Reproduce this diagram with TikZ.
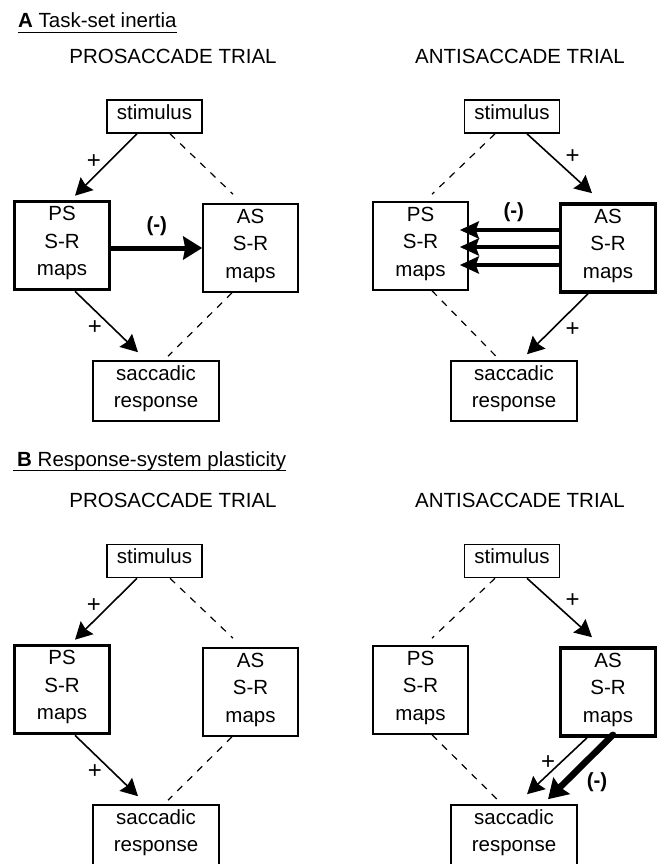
\documentclass[tikz,border=0pt]{standalone}
\usepackage{fontspec}
\setmainfont{Liberation Sans}
\usetikzlibrary{arrows.meta,calc}

\begin{document}
\begin{tikzpicture}[x=1pt, y=-1pt,
    every node/.style={font=\fontsize{20.5}{27.5}\selectfont},
    blk/.style={draw, line width=1.6pt, align=center, inner sep=0pt,
      execute at end node={\rule[-9pt]{0pt}{0pt}}},
    stimbox/.style={blk, minimum width=95pt, minimum height=33pt},
    mapbox/.style={blk, minimum width=95pt, minimum height=88pt},
    respbox/.style={blk, minimum width=126pt, minimum height=60pt},
    active/.style={line width=3.6pt},
    excite/.style={line width=1.6pt, -{Stealth[length=17pt, width=18pt, inset=2pt]}},
    inhibit/.style={line width=5pt, line cap=round, -{Stealth[length=19pt, width=23pt, inset=2pt]}},
    suppress/.style={line width=4.2pt, -{Stealth[length=19pt, width=17pt, inset=3pt]}},
    nolink/.style={line width=1.2pt, dash pattern=on 7pt off 7pt},
    sign/.style={inner sep=0pt, font=\fontsize{24}{28}\selectfont},
    neg/.style={inner sep=0pt, font=\fontsize{20.5}{27.5}\selectfont\bfseries},
    heading/.style={anchor=base west, inner sep=0pt},
  ]
  \useasboundingbox (0,0) rectangle (661,864);

  % A: task-set inertia
  \node[heading] (titleA) at (18,28) {\textbf{A} Task-set inertia};
  \draw[line width=1.2pt] ([yshift=-4.5pt]titleA.base west) -- ([yshift=-4.5pt]titleA.base east);
  \node (proA) at (173,56) {PROSACCADE TRIAL};
  \node (antiA) at (520,56) {ANTISACCADE TRIAL};

  \node[stimbox] (stim1) at (154.5,116.5) {stimulus};
  \node[mapbox, active] (ps1) at (62,245.5) {PS\\S-R\\maps};
  \node[mapbox] (as1) at (250.5,248) {AS\\S-R\\maps};
  \node[respbox] (resp1) at (156,391) {saccadic\\response};
  \draw[excite] ([xshift=-17.5pt]stim1.south) -- node[sign, xshift=-12pt, yshift=3pt] {+} ([xshift=13pt, yshift=4pt]ps1.north);
  \draw[nolink] ([xshift=15.5pt]stim1.south) -- ([xshift=-17.5pt, yshift=9pt]as1.north);
  \draw[inhibit] (ps1.east |- as1.west) -- node[neg, above=10pt] {(-)} (as1.west);
  \draw[excite] ([xshift=13pt]ps1.south) -- node[sign, pos=0.6, xshift=-18pt] {+} ([xshift=-18pt, yshift=8pt]resp1.north);
  \draw[nolink] ([xshift=-18.5pt]as1.south) -- ([xshift=12pt, yshift=4pt]resp1.north);

  \node[stimbox] (stim2) at (512,116.5) {stimulus};
  \node[mapbox] (ps2) at (420.5,246) {PS\\S-R\\maps};
  \node[mapbox, active] (as2) at (608,248) {AS\\S-R\\maps};
  \node[respbox] (resp2) at (514,391) {saccadic\\response};
  \draw[nolink] ([xshift=-17pt]stim2.south) -- ([xshift=11.5pt, yshift=7pt]ps2.north);
  \draw[excite] ([xshift=15pt]stim2.south) -- node[sign, xshift=13pt, yshift=7pt] {+} ([xshift=-16pt, yshift=9pt]as2.north);
  \draw[excite] ([xshift=-20pt]as2.south) -- node[sign, xshift=15pt, yshift=-6pt] {+} ([xshift=13pt, yshift=6pt]resp2.north);
  \draw[nolink] ([xshift=11.5pt]ps2.south) -- ([xshift=-18pt, yshift=4pt]resp2.north);
  \foreach \dy in {18,1,-17}
    \draw[suppress] ($(as2.west)+(0pt,\dy pt)$) -- ($(ps2.east |- as2.west)+(-9pt,\dy pt)$);
  \node[neg] (neg2) at ($(ps2.east)!0.5!(as2.west)+(0pt,35pt)$) {(-)};

  % B: response-system plasticity
  \node[heading] (titleB) at (17,466) {\textbf{B} Response-system plasticity};
  \draw[line width=1.2pt] ([yshift=-4.5pt,xshift=-4pt]titleB.base west) -- ([yshift=-4.5pt]titleB.base east);
  \node (proB) at (173,500.5) {PROSACCADE TRIAL};
  \node (antiB) at (520,500.5) {ANTISACCADE TRIAL};

  \node[stimbox] (stim3) at (154.5,561) {stimulus};
  \node[mapbox, active] (ps3) at (62,689.5) {PS\\S-R\\maps};
  \node[mapbox] (as3) at (250.5,692) {AS\\S-R\\maps};
  \node[respbox] (resp3) at (156,835) {saccadic\\response};
  \draw[excite] ([xshift=-17.5pt]stim3.south) -- node[sign, xshift=-12pt, yshift=3pt] {+} ([xshift=13pt, yshift=4pt]ps3.north);
  \draw[nolink] ([xshift=15.5pt]stim3.south) -- ([xshift=-17.5pt, yshift=9pt]as3.north);
  \draw[excite] ([xshift=13pt]ps3.south) -- node[sign, pos=0.6, xshift=-18pt] {+} ([xshift=-18pt, yshift=8pt]resp3.north);
  \draw[nolink] ([xshift=-18.5pt]as3.south) -- ([xshift=12pt, yshift=4pt]resp3.north);

  \node[stimbox] (stim4) at (512,561) {stimulus};
  \node[mapbox] (ps4) at (420.5,690) {PS\\S-R\\maps};
  \node[mapbox, active] (as4) at (608,692) {AS\\S-R\\maps};
  \node[respbox] (resp4) at (514,835) {saccadic\\response};
  \draw[nolink] ([xshift=-17pt]stim4.south) -- ([xshift=11.5pt, yshift=7pt]ps4.north);
  \draw[excite] ([xshift=15pt]stim4.south) -- node[sign, xshift=13pt, yshift=7pt] {+} ([xshift=-16pt, yshift=9pt]as4.north);
  \draw[excite] ([xshift=-21pt]as4.south) -- node[sign, xshift=-9pt, yshift=3pt] {+} ([xshift=13pt, yshift=10pt]resp4.north);
  \draw[inhibit, line width=6.5pt] ([xshift=5pt, yshift=3pt]as4.south) -- node[neg, xshift=16.5pt, yshift=-15.5pt] {(-)} ([xshift=34pt, yshift=5pt]resp4.north);
  \draw[nolink] ([xshift=11.5pt]ps4.south) -- ([xshift=-17pt, yshift=5pt]resp4.north);
\end{tikzpicture}
\end{document}
